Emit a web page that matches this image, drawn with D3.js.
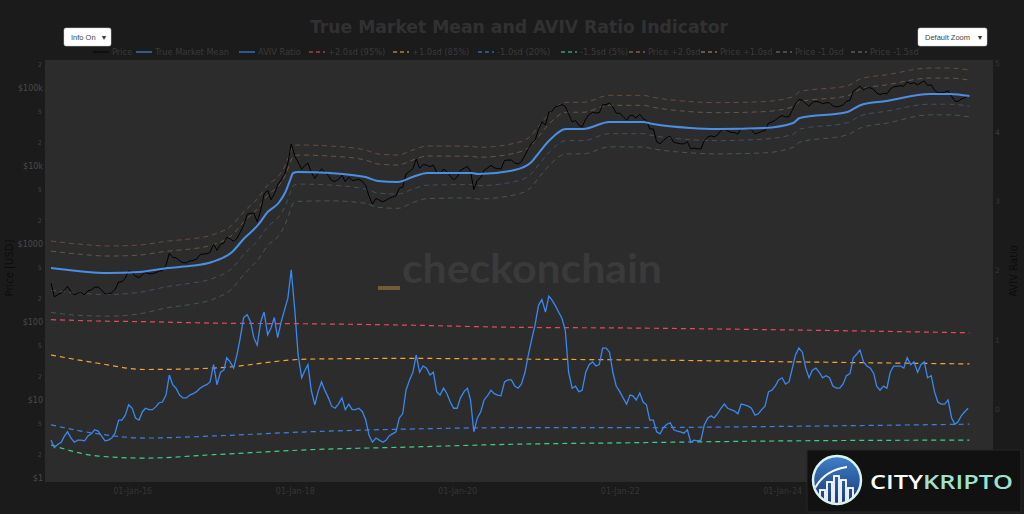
<!DOCTYPE html>
<html><head><meta charset="utf-8">
<script src="https://cdn.jsdelivr.net/npm/d3@7"></script>
<style>
html,body{margin:0;padding:0;background:#1b1b1b;}
svg{display:block;}
</style></head><body>
<svg id="chart" width="1024" height="514"></svg>
<script>
// ---------------- DATA ----------------
const chartTitle = "True Market Mean and AVIV Ratio Indicator";
const seriesStart = "2015-01-01"; // half-monthly samples: 1st and 16th of each month

const priceValues = [
 315,210,225,235,255,285,245,222,235,237,225,250,258,280,280,258,228,230,237,262,325,330,362,455,
 432,385,372,405,432,415,416,430,450,455,535,760,675,665,610,575,575,608,615,640,730,745,750,780,
 1000,830,990,1030,1220,1170,1080,1180,1420,1730,2400,2480,2500,1930,2720,4380,4900,3700,4400,5700,6750,7800,10900,19200,
 13500,11200,9100,10200,10900,8300,6900,8100,9200,8400,7500,6500,6350,6700,7600,6300,7200,6500,6600,6750,6350,5600,4100,3250,
 3850,3650,3480,3650,3850,4000,4150,5200,5350,7900,8550,9300,12300,9400,10400,10300,9800,10250,8300,8000,9150,8500,7400,6650,
 7200,8800,9350,9900,8550,5000,6600,7100,8800,9400,10200,9500,9230,9150,11800,11900,11900,10950,10600,11350,13750,16700,19700,21300,
 29400,36800,33500,49200,49600,56900,58700,61400,57800,46500,36700,38300,33500,31800,39900,45900,48800,47700,48200,60900,61300,64500,57200,47600,
 47300,43100,38700,44500,44400,41100,46300,40400,38500,29800,29800,20400,19300,21200,23300,23900,20100,19700,19300,19200,20500,16600,17000,16600,
 16600,21100,23700,24300,23600,24900,28500,30300,28100,27000,26800,25600,30600,30300,29700,29200,25900,26600,27900,28500,35400,36600,38700,41900,
 44200,42500,43100,52000,62400,71000,69700,63400,58300,65200,67500,66200,62700,64800,64600,58900,57300,58200,60800,67600,69500,91000,97300,106000,
 94400,100500,100600,96100,86100,82600,85200,84000,96500,103500,105700,106800,105700,119000,113300,117400,109200,116800,123500,108200,110000,94000,86500,87000,
 88000,92000,78000,68000,67000,72000,75000,79000
];

const avivValues = [
 -0.45,-0.56,-0.51,-0.48,-0.40,-0.33,-0.42,-0.48,-0.45,-0.45,-0.46,-0.39,-0.36,-0.30,-0.32,-0.39,-0.46,-0.45,-0.42,-0.35,-0.16,-0.16,-0.09,0.06,
 0.01,-0.13,-0.16,-0.04,0.01,-0.01,-0.01,0.03,0.09,0.10,0.20,0.49,0.35,0.30,0.20,0.16,0.16,0.20,0.22,0.25,0.30,0.33,0.35,0.39,
 0.64,0.35,0.53,0.56,0.74,0.68,0.59,0.78,1.03,1.32,1.36,1.26,1.03,0.92,1.26,1.40,1.07,1.17,1.32,1.03,1.26,1.43,1.60,2.01,
 1.43,0.78,0.45,0.56,0.64,0.27,0.06,0.25,0.39,0.27,0.16,0.04,0.01,0.07,0.16,-0.01,0.07,-0.01,-0.01,0.01,-0.04,-0.16,-0.38,-0.48,
 -0.42,-0.45,-0.48,-0.45,-0.39,-0.36,-0.33,-0.13,-0.07,0.27,0.42,0.53,0.78,0.53,0.62,0.59,0.49,0.53,0.25,0.20,0.30,0.22,0.10,0.01,
 0.01,0.16,0.25,0.30,0.13,-0.33,-0.13,-0.04,0.13,0.19,0.27,0.22,0.20,0.19,0.39,0.42,0.42,0.33,0.30,0.36,0.53,0.78,1.00,1.21,
 1.50,1.58,1.40,1.63,1.58,1.50,1.40,1.31,1.14,0.53,0.30,0.33,0.25,0.27,0.53,0.64,0.68,0.62,0.64,0.88,0.88,0.82,0.53,0.33,
 0.25,0.16,0.07,0.20,0.19,0.13,0.23,0.10,0.06,-0.16,-0.16,-0.33,-0.36,-0.27,-0.22,-0.20,-0.30,-0.32,-0.33,-0.35,-0.30,-0.48,-0.45,-0.46,
 -0.45,-0.23,-0.13,-0.10,-0.13,-0.07,0.01,0.07,0.01,-0.01,-0.03,-0.07,0.07,0.06,0.04,0.01,-0.09,-0.07,-0.01,0.04,0.25,0.27,0.33,0.42,
 0.45,0.36,0.39,0.59,0.78,0.88,0.82,0.59,0.45,0.56,0.59,0.53,0.45,0.48,0.45,0.33,0.30,0.30,0.36,0.48,0.51,0.74,0.79,0.85,
 0.68,0.62,0.59,0.51,0.33,0.27,0.33,0.30,0.53,0.62,0.62,0.62,0.59,0.74,0.64,0.68,0.53,0.64,0.68,0.45,0.48,0.25,0.10,0.07,
 0.07,0.13,-0.13,-0.22,-0.19,-0.10,-0.04,0.01
];

const tmmDates = ["2015-01-01","2015-05-01","2015-09-15","2016-02-01","2016-06-10","2016-09-15","2016-12-25",
 "2017-03-25","2017-05-20","2017-07-20","2017-09-01","2017-10-20","2017-11-20","2017-12-10","2017-12-25",
 "2018-01-15","2018-06-10","2018-11-15","2019-01-10","2019-04-10","2019-06-15","2019-08-20",
 "2020-03-05","2020-04-05","2020-09-15","2020-11-25","2021-01-05","2021-02-20","2021-05-05","2021-07-20",
 "2021-11-15","2022-04-15","2022-06-01","2022-11-15","2023-03-15","2023-10-10","2024-02-20","2024-03-20",
 "2024-10-20","2024-12-20","2025-04-15","2025-10-25","2026-01-25","2026-04-22"];
const tmmValues = [492,451,425,437,492,522,588,
 789,1194,1754,2570,3356,4645,6500,8130,
 8375,8130,7230,6430,6240,7230,8130,
 8130,7890,8890,10910,15100,21500,29800,29800,
 36600,36600,34500,30700,29800,30700,35600,41200,
 49200,60600,68100,83800,83800,78900];
const pricePlus2 = [1092,1001,944,970,1092,1159,1305,
 1752,2651,3894,5705,7450,10312,14430,18049,
 18593,18049,16051,14275,13853,16051,18049,
 17886,17358,19558,24002,33220,47300,65560,65560,
 80520,80520,75900,66940,64964,66926,77608,89816,
 106764,131502,147777,180170,180170,169635];
const pricePlus1 = [812,744,701,721,812,861,970,
 1302,1970,2894,4241,5537,7664,10725,13415,
 13819,13415,11930,10610,10296,11930,13415,
 13334,12940,14580,17892,24764,35260,48870,48870,
 60024,60024,56580,49734,48276,49734,57672,66744,
 79212,97566,109641,134080,134080,126240];
const priceMinus1 = [256,235,225,240,285,313,359,
 489,752,1123,1670,2215,3112,4420,5610,
 5863,5691,5061,4501,4368,5061,5691,
 5772,5602,6312,7746,10721,15265,21158,21158,
 25986,25986,24495,21797,21158,22104,25632,29664,
 35916,44238,50394,62012,62012,58386];
const priceMinus15 = [133,122,119,127,153,167,194,
 268,418,632,951,1275,1812,2600,3333,
 3518,3577,3326,2958,2870,3398,3821,
 3902,3787,4267,5237,7248,10320,14304,14304,
 17568,17568,16560,14736,14304,14736,17444,20188,
 25092,30906,35412,45252,45252,42606];

const avivBandDates = ["2015-01-01","2015-08-01","2016-03-01","2017-01-01","2018-03-01","2019-06-01","2020-09-01","2022-01-01","2024-03-01","2026-04-22"];
const avivPlus2  = [1.29,1.27,1.26,1.24,1.23,1.21,1.18,1.17,1.14,1.10];
const avivPlus1  = [0.78,0.66,0.57,0.59,0.72,0.73,0.72,0.71,0.68,0.65];
const avivMinus1 = [-0.23,-0.36,-0.42,-0.39,-0.33,-0.29,-0.27,-0.27,-0.25,-0.22];
const avivMinus15= [-0.52,-0.68,-0.71,-0.66,-0.59,-0.55,-0.51,-0.49,-0.46,-0.45];

const legendLabels = ["Price","True Market Mean","AVIV Ratio","+2.0sd (95%)","+1.0sd (85%)","-1.0sd (20%)","-1.5sd (5%)",
  "Price +2.0sd","Price +1.0sd","Price -1.0sd","Price -1.5sd"];
const xTickDates = ["2016-01-01","2018-01-01","2020-01-01","2022-01-01","2024-01-01"];
const priceMajorTicks = [1,10,100,1000,10000,100000];
const priceMajorLabels = ["$1","$10","$100","$1000","$10k","$100k"];
const priceMinorTicks = [2,5,20,50,200,500,2000,5000,20000,50000,200000];
const avivTicks = [0,1,2,3,4,5];

// ---------------- LAYOUT / STYLE ----------------
const W = 1024, H = 514;
const plot = {left:45, right:993, top:60, bottom:482};
const colors = {
  page:"#1b1b1b", plot:"#2c2c2c", price:"#000000", tmm:"#4a8fe3", aviv:"#3a88f0",
  aPlus2:"#e5485f", aPlus1:"#f2a33a", aMinus1:"#3f7fe0", aMinus15:"#3fcf88",
  pPlus2:"#b5704f", pPlus1:"#b58a55", pMinus1:"#5a7aa5", pMinus15:"#5a9078"
};
const parse = d3.utcParse("%Y-%m-%d");
const svg = d3.select("#chart");

const x = d3.scaleUtc().domain([parse("2014-12-05"), parse("2026-08-06")]).range([plot.left, plot.right]);
const yP = d3.scaleLog().domain([0.889, 228600]).range([plot.bottom, plot.top]);
const yA = d3.scaleLinear().domain([-1.055, 5.04]).range([plot.bottom, plot.top]);

svg.append("rect").attr("width",W).attr("height",H).attr("fill",colors.page);
svg.append("rect").attr("x",plot.left).attr("y",plot.top).attr("width",plot.right-plot.left)
  .attr("height",plot.bottom-plot.top).attr("fill",colors.plot);

const defs = svg.append("defs");
defs.append("clipPath").attr("id","clip").append("rect")
  .attr("x",plot.left).attr("y",plot.top).attr("width",plot.right-plot.left).attr("height",plot.bottom-plot.top);

// watermark
const wm = svg.append("g");
wm.append("rect").attr("x",378).attr("y",286).attr("width",22).attr("height",4).attr("fill","#8a6638").attr("opacity",0.8);
wm.append("text").attr("x",402).attr("y",283).attr("font-family","Lato, 'Open Sans', sans-serif")
  .attr("font-weight",700).attr("font-size",40).attr("fill","#3a3a3a")
  .attr("textLength",260).attr("lengthAdjust","spacingAndGlyphs").text("checkonchain");

// half-monthly dates
const halfDates = priceValues.map((v,i)=>{
  const m = d3.utcMonth.offset(parse(seriesStart), Math.floor(i/2));
  return i%2 ? d3.utcDay.offset(m,15) : m;
});
const priceData = priceValues.map((v,i)=>({d:halfDates[i], v}));
const avivData = avivValues.map((v,i)=>({d:halfDates[i], v}));
const tmmD = tmmDates.map(parse);
const bD = avivBandDates.map(parse);

const g = svg.append("g").attr("clip-path","url(#clip)");
const lineP = d3.line().x(d=>x(d.d)).y(d=>yP(d.v));
const lineA = d3.line().x(d=>x(d.d)).y(d=>yA(d.v));
const smoothP = d3.line().x(d=>x(d.d)).y(d=>yP(d.v)).curve(d3.curveMonotoneX);
const smoothA = d3.line().x(d=>x(d.d)).y(d=>yA(d.v)).curve(d3.curveMonotoneX);
const zipP = arr => arr.map((v,i)=>({d:tmmD[i], v}));
const zipA = arr => arr.map((v,i)=>({d:bD[i], v}));

// price bands
[[pricePlus2,colors.pPlus2],[pricePlus1,colors.pPlus1],[priceMinus1,colors.pMinus1],[priceMinus15,colors.pMinus15]].forEach(([arr,c])=>{
  g.append("path").datum(zipP(arr)).attr("d",smoothP).attr("fill","none").attr("stroke",c)
   .attr("stroke-width",1).attr("stroke-dasharray","5,4").attr("opacity",0.45);
});
// AVIV bands
[[avivPlus2,colors.aPlus2],[avivPlus1,colors.aPlus1],[avivMinus1,colors.aMinus1],[avivMinus15,colors.aMinus15]].forEach(([arr,c])=>{
  g.append("path").datum(zipA(arr)).attr("d",smoothA).attr("fill","none").attr("stroke",c)
   .attr("stroke-width",1.2).attr("stroke-dasharray","5,4");
});
// AVIV ratio
g.append("path").datum(avivData).attr("d",lineA).attr("fill","none").attr("stroke",colors.aviv).attr("stroke-width",1.3);
// price
g.append("path").datum(priceData).attr("d",lineP).attr("fill","none").attr("stroke",colors.price).attr("stroke-width",1);
// TMM
g.append("path").datum(zipP(tmmValues)).attr("d",smoothP).attr("fill","none").attr("stroke",colors.tmm).attr("stroke-width",2);

// axes
const font = "'DejaVu Sans', Verdana, sans-serif";
const xAxis = svg.append("g").attr("transform",`translate(0,${plot.bottom})`)
  .call(d3.axisBottom(x).tickValues(xTickDates.map(parse)).tickFormat(d3.utcFormat("%d-%b-%y")).tickSize(0).tickPadding(6));
xAxis.select(".domain").remove();
xAxis.selectAll("text").attr("font-family",font).attr("font-size",8).attr("fill","#363636");

const lAxis = svg.append("g").attr("transform",`translate(${plot.left},0)`)
  .call(d3.axisLeft(yP).tickValues(priceMajorTicks).tickFormat((d,i)=>priceMajorLabels[i]).tickSize(0).tickPadding(2));
lAxis.select(".domain").remove();
lAxis.selectAll("text").attr("font-family",font).attr("font-size",8).attr("fill","#4a4a4a");
const lMinor = svg.append("g").attr("transform",`translate(${plot.left},0)`)
  .call(d3.axisLeft(yP).tickValues(priceMinorTicks).tickFormat(d=>String(d).charAt(0)).tickSize(0).tickPadding(3));
lMinor.select(".domain").remove();
lMinor.selectAll("text").attr("font-family",font).attr("font-size",6.5).attr("fill","#424242");

const rAxis = svg.append("g").attr("transform",`translate(${plot.right},0)`)
  .call(d3.axisRight(yA).tickValues(avivTicks).tickFormat(d3.format("d")).tickSize(0).tickPadding(2));
rAxis.select(".domain").remove();
rAxis.selectAll("text").attr("font-family",font).attr("font-size",7.5).attr("fill","#3a3a3a");

svg.append("text").attr("transform","translate(13,268) rotate(-90)").attr("text-anchor","middle")
  .attr("font-family",font).attr("font-size",10).attr("fill","#0c0c0c").text("Price [USD]");
svg.append("text").attr("transform","translate(1017,271) rotate(-90)").attr("text-anchor","middle")
  .attr("font-family",font).attr("font-size",10).attr("fill","#0c0c0c").text("AVIV Ratio");

// title
svg.append("text").attr("x",310).attr("y",33).attr("font-family",font).attr("font-weight","bold")
  .attr("font-size",17).attr("fill","#313131").attr("textLength",418).attr("lengthAdjust","spacingAndGlyphs").text(chartTitle);

// legend
const legendTextX = [112,155,258,328,412,497,580,648,720,795,870];
const legendStyle = [
  [colors.price,null,1.5],[colors.tmm,null,2],[colors.aviv,null,2],
  [colors.aPlus2,"4,3",2],[colors.aPlus1,"4,3",2],[colors.aMinus1,"4,3",2],[colors.aMinus15,"4,3",2],
  ["#6a4a40","4,3",2],["#6a5a48","4,3",2],["#444c58","4,3",2],["#444e4a","4,3",2]
];
const lg = svg.append("g");
legendLabels.forEach((lab,i)=>{
  const tx = legendTextX[i];
  const [c,dash,w] = legendStyle[i];
  lg.append("line").attr("x1",tx-19).attr("x2",tx-3).attr("y1",52).attr("y2",52).attr("stroke",c)
    .attr("stroke-width",w).attr("stroke-dasharray",dash).attr("opacity", i<7 ? 0.55 : 1);
  lg.append("text").attr("x",tx).attr("y",55).attr("font-family",font).attr("font-size",8.3)
    .attr("fill","#3a3a3a").text(lab);
});

// buttons
const btnFont = "'Liberation Sans', Arial, sans-serif";
function button(x0,w,label){
  const b = svg.append("g");
  b.append("rect").attr("x",x0).attr("y",28).attr("width",w).attr("height",18).attr("rx",2).attr("fill","#ffffff").attr("stroke","#cccccc").attr("stroke-width",0.5);
  b.append("text").attr("x",x0+7).attr("y",40).attr("font-family",btnFont).attr("font-size",7.5).attr("fill","#444").text(label);
  b.append("text").attr("x",x0+w-7).attr("y",40).attr("text-anchor","middle").attr("font-family",btnFont).attr("font-size",7).attr("fill","#333").text("▼");
}
button(64,47,"Info On");
button(918,69,"Default Zoom");

// logo
const lo = svg.append("g").attr("transform","translate(807,450)");
lo.append("rect").attr("width",214).attr("height",62).attr("fill","#111111").attr("stroke","#262626");
const grad = defs.append("linearGradient").attr("id","lg").attr("x1",0).attr("y1",0).attr("x2",0).attr("y2",1);
grad.append("stop").attr("offset","0%").attr("stop-color","#3f80c8");
grad.append("stop").attr("offset","100%").attr("stop-color","#173a78");
defs.append("clipPath").attr("id","cc").append("circle").attr("cx",30).attr("cy",30).attr("r",23);
lo.append("circle").attr("cx",30).attr("cy",30).attr("r",24).attr("fill","url(#lg)").attr("stroke","#dcf3ec").attr("stroke-width",2.5);
const bars = lo.append("g").attr("clip-path","url(#cc)");
[[13,40],[20,32],[27,26],[34,30],[41,38]].forEach(([bx,by])=>{
  bars.append("rect").attr("x",bx).attr("y",by).attr("width",5).attr("height",30).attr("fill","none").attr("stroke","#ffffff").attr("stroke-width",1.8);
});
bars.append("path").attr("d","M8,38 Q18,20 40,17").attr("fill","none").attr("stroke","#ffffff").attr("stroke-width",1.8);
const lt = lo.append("text").attr("x",63).attr("y",39).attr("font-family","'Open Sans', Lato, sans-serif")
  .attr("font-weight",600).attr("font-size",20).attr("textLength",143).attr("lengthAdjust","spacingAndGlyphs");
lt.append("tspan").attr("fill","#ffffff").text("CITY");
lt.append("tspan").attr("fill","#9fe3cf").text("KRIPTO");
</script></body></html>
